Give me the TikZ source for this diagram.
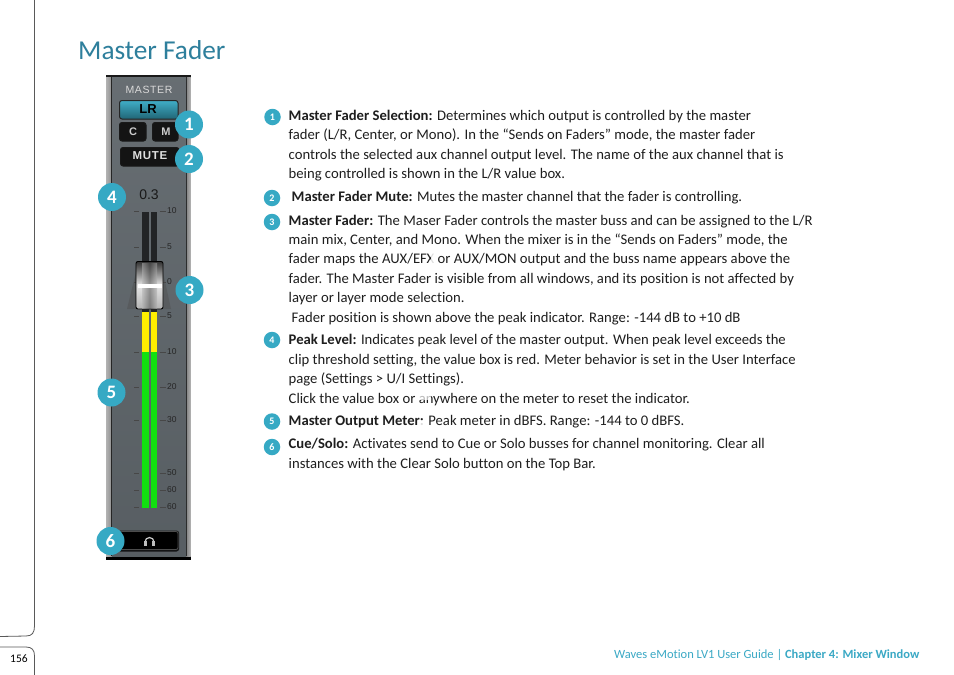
\documentclass[tikz,border=0pt]{standalone}
\usepackage{fontspec}
\setmainfont[Ligatures=NoCommon]{Carlito}
\newfontfamily\uifont{Liberation Sans}
\newfontfamily\uispaced[LetterSpace=6]{Liberation Sans}
\definecolor{teal}{HTML}{2E7F9C}
\definecolor{footc}{HTML}{3BA9C5}
\definecolor{badge}{HTML}{36A9C4}
\definecolor{panel}{HTML}{5F666B}
\definecolor{bodyc}{HTML}{1E1E1E}
\definecolor{ledgreen}{HTML}{12E010}
\definecolor{ledyellow}{HTML}{FFEE00}
\definecolor{slot}{HTML}{222426}
\tikzset{
  txt/.style={anchor=base west,inner sep=0pt,text=bodyc,font=\fontsize{14.67}{16}\selectfont},
  bigbadge/.style={circle,fill=badge,draw=none,minimum size=28pt,inner sep=0pt,text=white,font=\fontsize{19}{20}\selectfont\bfseries},
  smallbadge/.style={circle,fill=badge,draw=none,minimum size=16.5pt,inner sep=0pt,text=white,font=\fontsize{10}{11}\selectfont\bfseries},
  uibtn/.style={draw=black!90,rounded corners=2.5pt,fill=black!92,line width=1pt},
  uilabel/.style={inner sep=0pt,font=\uifont\bfseries\fontsize{11.5}{12}\selectfont,text=black!12},
  scalelab/.style={inner sep=0pt,anchor=west,font=\uifont\fontsize{8.5}{9}\selectfont,text=black!85},
  tick/.style={draw=black!72,line width=1pt},
  erase/.style={fill=white,draw=none}
}
\begin{document}
\begin{tikzpicture}[x=1pt,y=-1pt]
\useasboundingbox (0,0) rectangle (954,675);
\fill[white] (0,0) rectangle (954,675);
% page frame
\draw[black!65,line width=.8pt] (34.5,0) -- (34.5,626) .. controls (34.5,633) and (32,636) .. (26,636) -- (0,636.5);
\draw[black!65,line width=.8pt] (0,647) -- (26,647) .. controls (32,647) and (34.5,650) .. (34.5,656) -- (34.5,675);
\node[anchor=base west,inner sep=0pt,font=\fontsize{11.5}{12}\selectfont,text=black] (pageno) at (10,662) {156};
% title
\node[anchor=base west,inner sep=0pt,text=teal,font=\fontsize{27.3}{30}\selectfont] (title) at (78,59.5) {Master Fader};
% panel
\fill[black!55] (106,75) rectangle (190.5,559);
\shade[left color=black!30,right color=black!45] (106,77) rectangle (112,556);
\shade[left color=black!50,right color=black!30] (186,77) rectangle (190.5,556);
\draw[black!85,line width=.9pt] (111.5,77) -- (111.5,556);
\draw[black!85,line width=.9pt] (186.5,77) -- (186.5,556);
\shade[top color=panel!95!white,bottom color=panel!92!black] (112,77) rectangle (186,556);
\fill[black!90] (106,75) rectangle (190.5,77);
\fill[black] (106,556.5) rectangle (190.5,559.5);
\node[uilabel,text=black!15,font=\uispaced\fontsize{10.5}{11}\selectfont] (masterlab) at (149,90) {MASTER};
% buttons
\draw[uibtn,draw=black!85,top color=badge!95!white,bottom color=badge!60!black] (119.5,100.5) rectangle (178,119) ;
\node[uilabel,text=black,font=\uifont\bfseries\fontsize{13}{14}\selectfont] (lr) at (148,109.5) {LR};
\draw[uibtn] (119.5,122.5) rectangle (146,141);
\node[uilabel,font=\uifont\bfseries\fontsize{11}{12}\selectfont,text=black!20] (cb) at (133,132) {C};
\draw[uibtn] (152.5,122.5) rectangle (178,141);
\node[uilabel,font=\uifont\bfseries\fontsize{11}{12}\selectfont,text=black!20] (mb) at (166,132) {M};
\draw[uibtn] (120.5,147.5) rectangle (179,166);
\node[uilabel,font=\uispaced\bfseries\fontsize{11.5}{12}\selectfont,text=black!12] (mute) at (150,156) {MUTE};
% peak
\node[inner sep=0pt,font=\uifont\fontsize{14}{15}\selectfont,text=black!90] (peak) at (149,195) {0.3};
% meter
\fill[slot] (142,212) rectangle (148.5,312);
\fill[slot] (150.5,212) rectangle (157,312);
\fill[ledyellow] (142,312) rectangle (148.5,352);
\fill[ledyellow] (150.5,312) rectangle (157,352);
\fill[ledgreen] (142,352) rectangle (148.5,508);
\fill[ledgreen] (150.5,352) rectangle (157,508);
% scale
\foreach \yy/\lab/\nm in {211/10/a,247/5/b,282/0/c,316/5/d,352/10/e,387/20/f,420/30/g,473/50/h,490/60/i,507/60/j}{
  \draw[tick] (134,\yy) -- (139,\yy);
  \draw[tick] (159.5,\yy) -- (165.5,\yy);
  \node[scalelab] (sc\nm) at (167,\yy) {\lab};
}
% fader
\fill[black!70,opacity=.4] (136,272) -- (163,272) -- (171,309) -- (127,309) -- cycle;
\shade[top color=black!80,bottom color=black!30,middle color=black!10,rounded corners=2pt,draw=black,line width=.9pt] (136,261.5) rectangle (163,309);
\shade[left color=black!30,right color=black!30,middle color=black!70,opacity=.55] (142,263) rectangle (157,308);
\fill[white] (137.5,283.5) rectangle (161.5,287.5);
% headphone button
\fill[black!80!panel,rounded corners=2.5pt] (118,530.5) rectangle (179,551.5);
\draw[black!70,rounded corners=2pt,fill=black,line width=.8pt] (120,531.5) rectangle (178,549.5);
\draw[black!20,line width=1.2pt] (145,542) arc[start angle=180,end angle=360,radius=4.5];
\fill[black!25] (144,541) rectangle (147,545.5);
\fill[black!25] (152,541) rectangle (155,545.5);
% big badges
\node[bigbadge] (b1) at (189,124.5) {1};
\node[bigbadge] (b2) at (189,159) {2};
\node[bigbadge] (b4) at (112,197) {4};
\node[bigbadge] (b3) at (189.5,290) {3};
\node[bigbadge] (b5) at (111.5,392.5) {5};
\node[bigbadge] (b6) at (110.5,541) {6};
% small badges
\node[smallbadge] (s1) at (272.5,117) {1};
\node[smallbadge] (s2) at (272,198) {2};
\node[smallbadge] (s3) at (272,222) {3};
\node[smallbadge] (s4) at (272,340) {4};
\node[smallbadge] (s5) at (272,421.5) {5};
\node[smallbadge] (s6) at (272,447) {6};
% text
\node[txt] (t1) at (288.5,120) {\textbf{Master Fader Selection:} Determines which output is controlled by the master};
\node[txt] (t2) at (288.5,139) {fader (L/R, Center, or Mono). In the “Sends on Faders” mode, the master fader};
\node[txt] (t3) at (288.5,159) {controls the selected aux channel output level. The name of the aux channel that is};
\node[txt] (t4) at (288.5,178) {being controlled is shown in the L/R value box.};
\node[txt] (t5) at (291.5,201) {\textbf{Master Fader Mute:} Mutes the master channel that the fader is controlling.};
\node[txt] (t6) at (288.5,225) {\textbf{Master Fader:} The Maser Fader controls the master buss and can be assigned to the L/R};
\node[txt] (t7) at (288.5,244) {main mix, Center, and Mono. When the mixer is in the “Sends on Faders” mode, the};
\node[txt] (t8) at (288.5,263.5) {fader maps the AUX/EFX or AUX/MON output and the buss name appears above the};
\node[txt] (t9) at (288.5,283) {fader. The Master Fader is visible from all windows, and its position is not affected by};
\node[txt] (t10) at (288.5,302) {layer or layer mode selection.};
\node[txt] (t11) at (291.5,322) {Fader position is shown above the peak indicator. Range: -144 dB to +10 dB};
\node[txt] (t12) at (288.5,344.5) {\textbf{Peak Level:} Indicates peak level of the master output. When peak level exceeds the};
\node[txt] (t13) at (288.5,364) {clip threshold setting, the value box is red. Meter behavior is set in the User Interface};
\node[txt] (t14) at (288.5,383) {page (Settings > U/I Settings).};
\node[txt] (t15) at (288.5,403) {Click the value box or anywhere on the meter to reset the indicator.};
\node[txt] (t16) at (288.5,425) {\textbf{Master Output Meter:} Peak meter in dBFS. Range: -144 to 0 dBFS.};
\node[txt] (t17) at (288.5,448) {\textbf{Cue/Solo:} Activates send to Cue or Solo busses for channel monitoring. Clear all};
\node[txt] (t18) at (288.5,468) {instances with the Clear Solo button on the Top Bar.};
% worn patches over the printed text
\fill[erase,opacity=.85] (431,253) rectangle (436,265);
\fill[erase,opacity=.7] (417,393) rectangle (431,400);
\fill[erase,opacity=.85] (420,420.5) rectangle (426.5,426);
% footer
\node[anchor=base west,inner sep=0pt,text=footc,font=\fontsize{12.5}{14}\selectfont] (foot) at (614,658) {Waves eMotion LV1 User Guide | \textbf{Chapter 4: Mixer Window}};
\end{tikzpicture}
\end{document}
